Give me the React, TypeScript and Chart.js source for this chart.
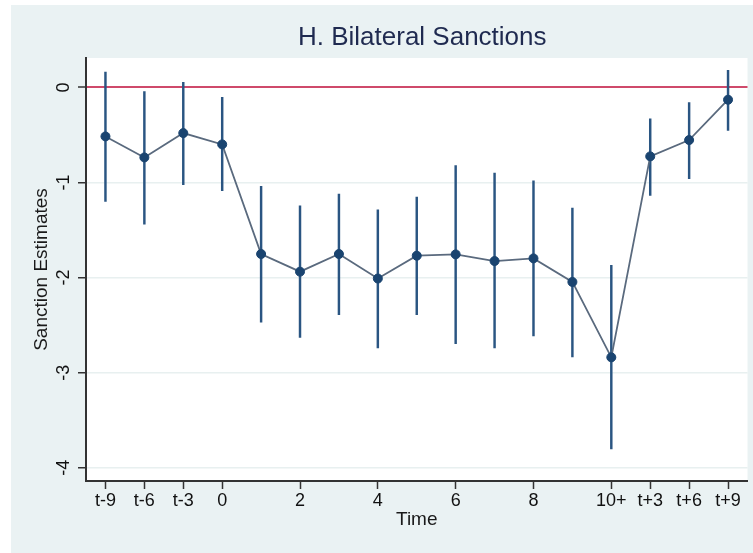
import React, { useEffect, useRef } from "react";
import { Chart, registerables } from "chart.js";

Chart.register(...registerables);

const categories = ["t-9", "t-6", "t-3", "0", "1", "2", "3", "4", "5", "6", "7", "8", "9", "10+", "t+3", "t+6", "t+9"];
const shownTicks = ["t-9", "t-6", "t-3", "0", "2", "4", "6", "8", "10+", "t+3", "t+6", "t+9"];
const estimates = [-0.515, -0.736, -0.48, -0.599, -1.752, -1.938, -1.752, -2.01, -1.77, -1.756, -1.826, -1.798, -2.046, -2.839, -0.725, -0.553, -0.129];
const ciUpper = [0.162, -0.042, 0.053, -0.105, -1.041, -1.244, -1.121, -1.286, -1.153, -0.823, -0.9, -0.981, -1.268, -1.872, -0.329, -0.158, 0.179];
const ciLower = [-1.199, -1.437, -1.023, -1.086, -2.47, -2.63, -2.39, -2.74, -2.39, -2.695, -2.74, -2.614, -2.835, -3.802, -1.136, -0.96, -0.452];
const yTicks = [-4, -3, -2, -1, 0];

const FONT = "'Liberation Sans', Arial, Helvetica, sans-serif";
const BG = "#EAF2F3";
const RED = "#cf4a6b";

const bgPlugin = {
  id: "bgPlugin",
  beforeDraw(chart: any) {
    const { ctx, chartArea, width, height } = chart;
    ctx.save();
    ctx.fillStyle = "#ffffff";
    ctx.fillRect(0, 0, width, height);
    ctx.fillStyle = BG;
    ctx.fillRect(11, 5, width - 11, height - 5);
    ctx.fillStyle = "#ffffff";
    ctx.fillRect(chartArea.left, chartArea.top, chartArea.right - chartArea.left, chartArea.bottom - chartArea.top);
    ctx.restore();
  },
  afterDraw(chart: any) {
    const { ctx, chartArea } = chart;
    ctx.save();
    ctx.font = `26px ${FONT}`;
    ctx.fillStyle = "#1f2a50";
    ctx.textAlign = "center";
    ctx.textBaseline = "middle";
    ctx.fillText("H. Bilateral Sanctions", (chartArea.left + chartArea.right) / 2 + 5.5, 38);
    ctx.restore();
  },
};

export default function App() {
  const ref = useRef<HTMLCanvasElement | null>(null);
  useEffect(() => {
    document.body.style.margin = "0";
    const canvas = ref.current;
    if (!canvas) return;
    const chart = new Chart(canvas, {
      type: "bar",
      data: {
        labels: categories,
        datasets: [
          {
            type: "line",
            data: estimates,
            borderColor: "#5a6a7e",
            borderWidth: 1.8,
            pointRadius: 4.5,
            pointBorderWidth: 1,
            pointBackgroundColor: "#1a4470",
            pointBorderColor: "#1a4470",
            tension: 0,
            order: 0,
          } as any,
          {
            type: "bar",
            data: ciLower.map((l, i) => [l, ciUpper[i]]),
            backgroundColor: "#2a5582",
            borderWidth: 0,
            barThickness: 1.8,
            order: 1,
          } as any,
        ],
      },
      options: {
        responsive: false,
        animation: false,
        events: [],
        layout: { padding: { left: 0, right: 4, top: 58, bottom: 0 } },
        plugins: {
          legend: { display: false },
          tooltip: { enabled: false },
          title: { display: false },
        },
        scales: {
          x: {
            type: "category",
            offset: true,
            afterBuildTicks: (s: any) => {
              s.ticks = s.ticks.filter((t: any) => shownTicks.includes(categories[t.value]));
            },
            afterFit: (s: any) => {
              s.height = 72;
            },
            grid: {
              display: true,
              offset: false,
              drawOnChartArea: false,
              drawTicks: true,
              tickLength: 8,
              tickColor: "#333333",
              tickWidth: 1.5,
            },
            border: { display: true, color: "#333333", width: 2 },
            ticks: {
              autoSkip: false,
              maxRotation: 0,
              minRotation: 0,
              padding: 1,
              color: "#111111",
              font: { family: FONT, size: 18 },
            },
            title: {
              display: true,
              text: "Time",
              color: "#1a1a1a",
              font: { family: FONT, size: 19 },
              padding: { top: 0, bottom: 22 },
            },
          },
          y: {
            type: "linear",
            min: -4.14,
            max: 0.31,
            afterBuildTicks: (s: any) => {
              s.ticks = yTicks.map((v) => ({ value: v }));
            },
            afterFit: (s: any) => {
              s.width = 86;
            },
            grid: {
              color: (c: any) => (c.tick && c.tick.value === 0 ? RED : "#e8f0f0"),
              lineWidth: (c: any) => (c.tick && c.tick.value === 0 ? 2 : 1.5),
              drawTicks: true,
              tickLength: 8,
              tickColor: "#333333",
              tickWidth: 1.5,
            },
            border: { display: true, color: "#333333", width: 2 },
            ticks: {
              minRotation: 90,
              maxRotation: 90,
              crossAlign: "center",
              padding: 6,
              color: "#111111",
              font: { family: FONT, size: 18 },
              callback: (v: any) => String(v),
            },
            title: {
              display: true,
              text: "Sanction Estimates",
              color: "#1a1a1a",
              font: { family: FONT, size: 19 },
              padding: { top: 30, bottom: 0 },
            },
          },
        },
      },
      plugins: [bgPlugin],
    } as any);
    return () => chart.destroy();
  }, []);
  return (
    <div style={{ position: "relative", width: 753, height: 553 }}>
      <canvas ref={ref} width={753} height={553} style={{ display: "block" }} />
    </div>
  );
}
